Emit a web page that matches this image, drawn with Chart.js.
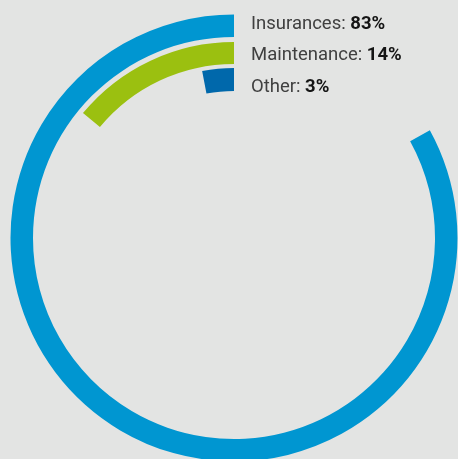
<!DOCTYPE html>
<html>
<head>
<meta charset="utf-8">
<script src="https://cdn.jsdelivr.net/npm/chart.js@4.4.0/dist/chart.umd.min.js"></script>
<style>
  html, body { margin: 0; padding: 0; background: #e3e4e3; overflow: hidden; }
  #wrap { width: 458px; height: 459px; position: relative; overflow: hidden; }
</style>
</head>
<body>
<div id="wrap"><canvas id="c" width="458" height="462"></canvas></div>
<script>
const categories = ['Insurances', 'Maintenance', 'Other'];
const values = [83, 14, 3];
const colors = ['#0096d1', '#9bc010', '#0068ab'];
const ringWeights = [22.5, 22, 23];
const gapWeights = [5, 4];

const datasets = [];
categories.forEach((cat, i) => {
  if (i > 0) {
    datasets.push({ label: 'gap' + i, data: [100], backgroundColor: ['rgba(0,0,0,0)'], borderWidth: 0, weight: gapWeights[i - 1], isGap: true });
  }
  datasets.push({
    label: cat,
    data: [100 - values[i], values[i]],
    backgroundColor: ['rgba(0,0,0,0)', colors[i]],
    borderWidth: 0,
    weight: ringWeights[i]
  });
});

const labelPlugin = {
  id: 'ringLabels',
  afterDraw(chart) {
    const ctx = chart.ctx;
    const metas = chart.getSortedVisibleDatasetMetas().filter(m => !chart.data.datasets[m.index].isGap);
    const first = metas[0].data[1];
    const cx = first.x, cy = first.y;
    const top = cy - first.outerRadius;
    ctx.save();
    ctx.textBaseline = 'alphabetic';
    ctx.textAlign = 'left';
    metas.forEach((m, i) => {
      const x = cx + 17;
      const y = top + 14.2 + i * 31.5;
      const reg = categories[i] + ': ';
      ctx.font = '18.5px Roboto';
      ctx.fillStyle = '#404040';
      ctx.fillText(reg, x, y);
      const w = ctx.measureText(reg).width;
      ctx.font = 'bold 18.5px Roboto';
      ctx.fillStyle = '#151515';
      ctx.fillText(values[i] + '%', x + w, y);
    });
    ctx.restore();
  }
};

new Chart(document.getElementById('c'), {
  type: 'doughnut',
  data: { labels: ['', ''], datasets },
  options: {
    responsive: false,
    animation: false,
    cutout: '65.77%',
    rotation: 0,
    layout: { padding: { left: 10.5, right: 0.5, top: 14.5, bottom: 0.5 } },
    plugins: { legend: { display: false }, tooltip: { enabled: false } },
    events: []
  },
  plugins: [labelPlugin]
});
</script>
</body>
</html>
